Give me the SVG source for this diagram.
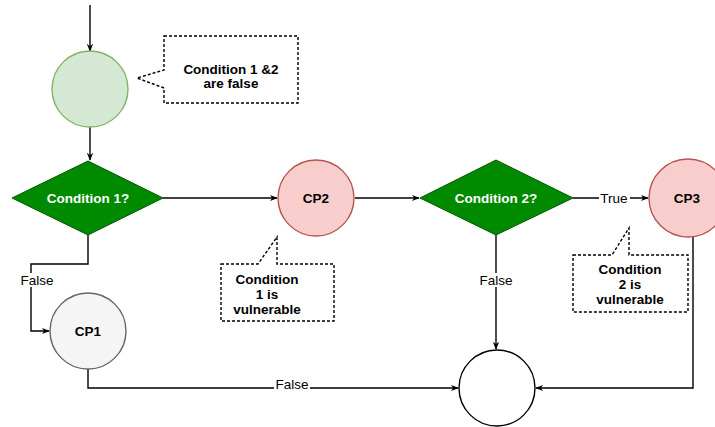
<svg xmlns="http://www.w3.org/2000/svg" width="715" height="427" viewBox="0 0 715 427">
<defs>
<marker id="arr" viewBox="0 0 10 10" refX="9" refY="5" markerWidth="8" markerHeight="8" orient="auto" markerUnits="userSpaceOnUse">
<path d="M0,1 L10,5 L0,9 L3,5 Z" fill="#000"/>
</marker>
<style>
.t{font-family:"Liberation Sans",Arial,sans-serif;font-size:13.5px;font-weight:bold;text-anchor:middle;fill:#000}
.w{fill:#fff}
.lbl{font-family:"Liberation Sans",Arial,sans-serif;font-size:13.5px;text-anchor:middle;fill:#000}
.e{fill:none;stroke:#000;stroke-width:1.4}
.co{fill:#fff;stroke:#000;stroke-width:1.4;stroke-dasharray:3 2}
.dia{fill:#008a00;stroke:#005700;stroke-width:1}
.red{fill:#f8cecc;stroke:#b85450;stroke-width:1.4}
</style>
</defs>
<rect width="715" height="427" fill="#fff"/>
<g id="connectors">
<path class="e" d="M90,5 L90,51" marker-end="url(#arr)"/>
<path class="e" d="M90,127 L90,160" marker-end="url(#arr)"/>
<path class="e" d="M163,198 L277,198" marker-end="url(#arr)"/>
<path class="e" d="M355,198 L419,198" marker-end="url(#arr)"/>
<path class="e" d="M573,198 L648,198" marker-end="url(#arr)"/>
<path class="e" d="M88,235 L88,264 L31,264 L31,331 L49,331" marker-end="url(#arr)"/>
<path class="e" d="M496,235 L496,349" marker-end="url(#arr)"/>
<path class="e" d="M88,369 L88,388 L458,388" marker-end="url(#arr)"/>
<path class="e" d="M693,235 L693,388 L536,388" marker-end="url(#arr)"/>
<rect x="20" y="273" width="35" height="14" fill="#fff"/>
<text class="lbl" x="37" y="285">False</text>
<rect x="478" y="273" width="36" height="14" fill="#fff"/>
<text class="lbl" x="496" y="285">False</text>
<rect x="274" y="379" width="36" height="14" fill="#fff"/>
<text class="lbl" x="292" y="389">False</text>
<rect x="599" y="191" width="31" height="14" fill="#fff"/>
<text class="lbl" x="614" y="203">True</text>
</g>
<g id="start">
<circle cx="90" cy="89" r="38" fill="#d5e8d4" stroke="#82b366" stroke-width="1.4"/>
</g>
<g id="note1">
<path class="co" d="M164,36 L298,36 L298,103 L164,103 L164,88 L137,78 L164,70 Z"/>
<text class="t" x="231" y="74">Condition 1 &amp;2</text>
<text class="t" x="231" y="88">are false</text>
</g>
<g id="cond1">
<path class="dia" d="M12,198 L88,161 L163,198 L88,235 Z"/>
<text class="t w" x="88" y="203">Condition 1?</text>
</g>
<g id="cp2">
<circle class="red" cx="316" cy="198" r="38"/>
<text class="t" x="316" y="203">CP2</text>
</g>
<g id="note2">
<path class="co" d="M221,264 L258,264 L277,237 L277,264 L334,264 L334,321 L221,321 Z"/>
<text class="t" x="267" y="284">Condition</text>
<text class="t" x="267" y="299">1 is</text>
<text class="t" x="267" y="314">vulnerable</text>
</g>
<g id="cond2">
<path class="dia" d="M420,198 L496,160 L573,198 L496,235 Z"/>
<text class="t w" x="496" y="203">Condition 2?</text>
</g>
<g id="cp3">
<circle class="red" cx="688" cy="198" r="39"/>
<text class="t" x="687" y="203">CP3</text>
</g>
<g id="note3">
<path class="co" d="M573,255 L612,255 L629,228 L629,255 L688,255 L688,312 L573,312 Z"/>
<text class="t" x="630" y="274">Condition</text>
<text class="t" x="630" y="289">2 is</text>
<text class="t" x="630" y="304">vulnerable</text>
</g>
<g id="cp1">
<circle cx="88" cy="331" r="38" fill="#f5f5f5" stroke="#666" stroke-width="1.4"/>
<text class="t" x="88" y="336">CP1</text>
</g>
<g id="end">
<circle cx="497" cy="388" r="38" fill="#fff" stroke="#000" stroke-width="1.4"/>
</g>
</svg>
